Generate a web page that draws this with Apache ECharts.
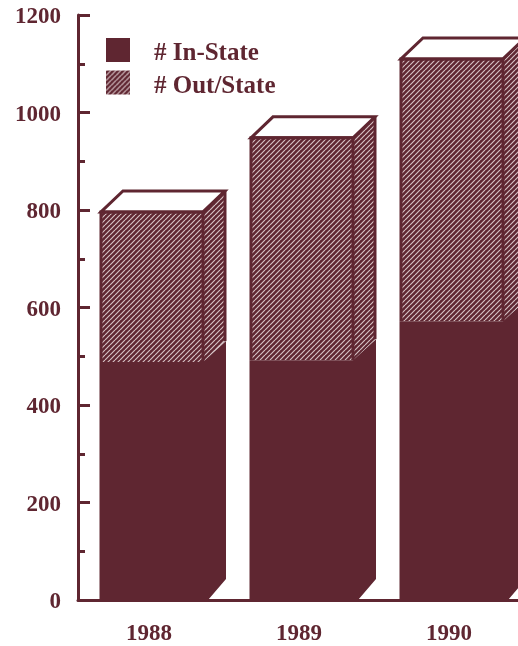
<!DOCTYPE html>
<html><head><meta charset="utf-8">
<style>html,body{margin:0;padding:0;background:#fff}#c{width:518px;height:646px}</style>
<script src="https://cdn.jsdelivr.net/npm/echarts@6/dist/echarts.min.js"></script>
</head><body><div id="c"></div>
<script>
const categories = ['1988','1989','1990'];
const inState = [488, 492, 572];
const outState = [308, 456, 538];
const yTicks = [0,200,400,600,800,1000,1200];
const seriesNames = ['# In-State','# Out/State'];
const MAROON = '#5f2631';
const FONT = '"Liberation Serif", serif';

function hatch(){
  const n=5, c=document.createElement('canvas'); c.width=n; c.height=n;
  const g=c.getContext('2d');
  g.fillStyle=MAROON; g.fillRect(0,0,n,n);
  g.strokeStyle='#d6c2c5'; g.lineWidth=1.15;
  for(let i=-n;i<=2*n;i+=n){ g.beginPath(); g.moveTo(i,n); g.lineTo(i+n,0); g.stroke(); }
  return c;
}
const pattern = {image:hatch(), repeat:'repeat'};
const DX=22, DY=21, EDGE=3;

function geom(api){
  const i=api.value(0);
  const w=api.size([1,0])[0]*0.68;
  const cx=api.coord([i,0])[0]-1;
  return {i,x0:cx-w/2,x1:cx+w/2};
}
function renderOut(params, api){
  const {i,x0,x1}=geom(api);
  const base=api.value(1), top=base+api.value(2);
  const yb=api.coord([i,base])[1], yt=api.coord([i,top])[1];
  const line={stroke:MAROON,lineWidth:EDGE,lineJoin:'miter'};
  return {type:'group',children:[
    {type:'polygon',shape:{points:[[x0,yt],[x1,yt],[x1,yb],[x0,yb]]},style:{fill:pattern,stroke:null}},
    {type:'polygon',shape:{points:[[x1,yt],[x1+DX,yt-DY],[x1+DX,yb-DY],[x1,yb]]},style:{fill:pattern,stroke:null}},
    {type:'polygon',shape:{points:[[x0,yt],[x0+DX,yt-DY],[x1+DX,yt-DY],[x1,yt]]},style:Object.assign({fill:'#fff'},line)},
    {type:'polyline',shape:{points:[[x0,yb],[x0,yt],[x1,yt],[x1,yb]]},style:Object.assign({fill:null},line)},
    {type:'polyline',shape:{points:[[x1+DX,yt-DY],[x1+DX,yb-DY]]},style:Object.assign({fill:null},line)}
  ]};
}
function renderIn(params, api){
  const {i,x0,x1}=geom(api);
  const v=api.value(1);
  const y0=api.coord([i,0])[1], yt=api.coord([i,v])[1];
  return {type:'polygon',shape:{points:[[x0-1.5,y0],[x0-1.5,yt],[x1,yt],[x1+DX+1,yt-DY],[x1+DX+1,y0-DY],[x1+5,y0]]},
    style:{fill:MAROON,stroke:null}};
}
const chart=echarts.init(document.getElementById('c'),null,{renderer:'canvas'});
chart.setOption({
  animation:false,
  backgroundColor:'#fff',
  grid:{left:78,top:15,width:450,height:585,containLabel:false,outerBoundsMode:'none'},
  legend:{
    left:101,top:33,orient:'vertical',itemWidth:24,itemHeight:24,itemGap:4,
    data:[
      {name:seriesNames[0],icon:'rect',itemStyle:{color:MAROON}},
      {name:seriesNames[1],icon:'rect',itemStyle:{color:pattern}}
    ],
    selectedMode:false,
    formatter:n=>'{a|'+n+'}',
    textStyle:{fontFamily:FONT,fontWeight:'bold',fontSize:25,color:MAROON,padding:[0,0,0,19],
      rich:{a:{fontFamily:FONT,fontWeight:'bold',fontSize:25,color:MAROON,padding:[8,0,0,0]}}}
  },
  xAxis:{type:'category',data:categories,
    axisLine:{lineStyle:{color:MAROON,width:3}},axisTick:{show:false},
    axisLabel:{margin:23,fontFamily:FONT,fontWeight:'bold',fontSize:23,color:MAROON,padding:[0,8,0,0]}},
  yAxis:{type:'value',min:yTicks[0],max:yTicks[yTicks.length-1],interval:yTicks[1]-yTicks[0],
    splitLine:{show:false},
    axisLine:{show:true,lineStyle:{color:MAROON,width:3}},
    axisTick:{show:true,inside:true,length:12,lineStyle:{color:MAROON,width:3}},
    minorTick:{show:true,splitNumber:2,length:7,lineStyle:{color:MAROON,width:3}},
    axisLabel:{margin:17,fontFamily:FONT,fontWeight:'bold',fontSize:23,color:MAROON,verticalAlign:'top',lineHeight:5,
      formatter:v=>String(v)}},
  series:[
    {name:seriesNames[1],type:'custom',renderItem:renderOut,itemStyle:{color:MAROON},clip:false,
     encode:{x:0,y:[1,2]},
     data:categories.map((c,i)=>[i,inState[i],outState[i]]),z:2},
    {name:seriesNames[0],type:'custom',renderItem:renderIn,itemStyle:{color:MAROON},clip:false,
     encode:{x:0,y:1},
     data:categories.map((c,i)=>[i,inState[i]]),z:3}
  ]
});
</script></body></html>
